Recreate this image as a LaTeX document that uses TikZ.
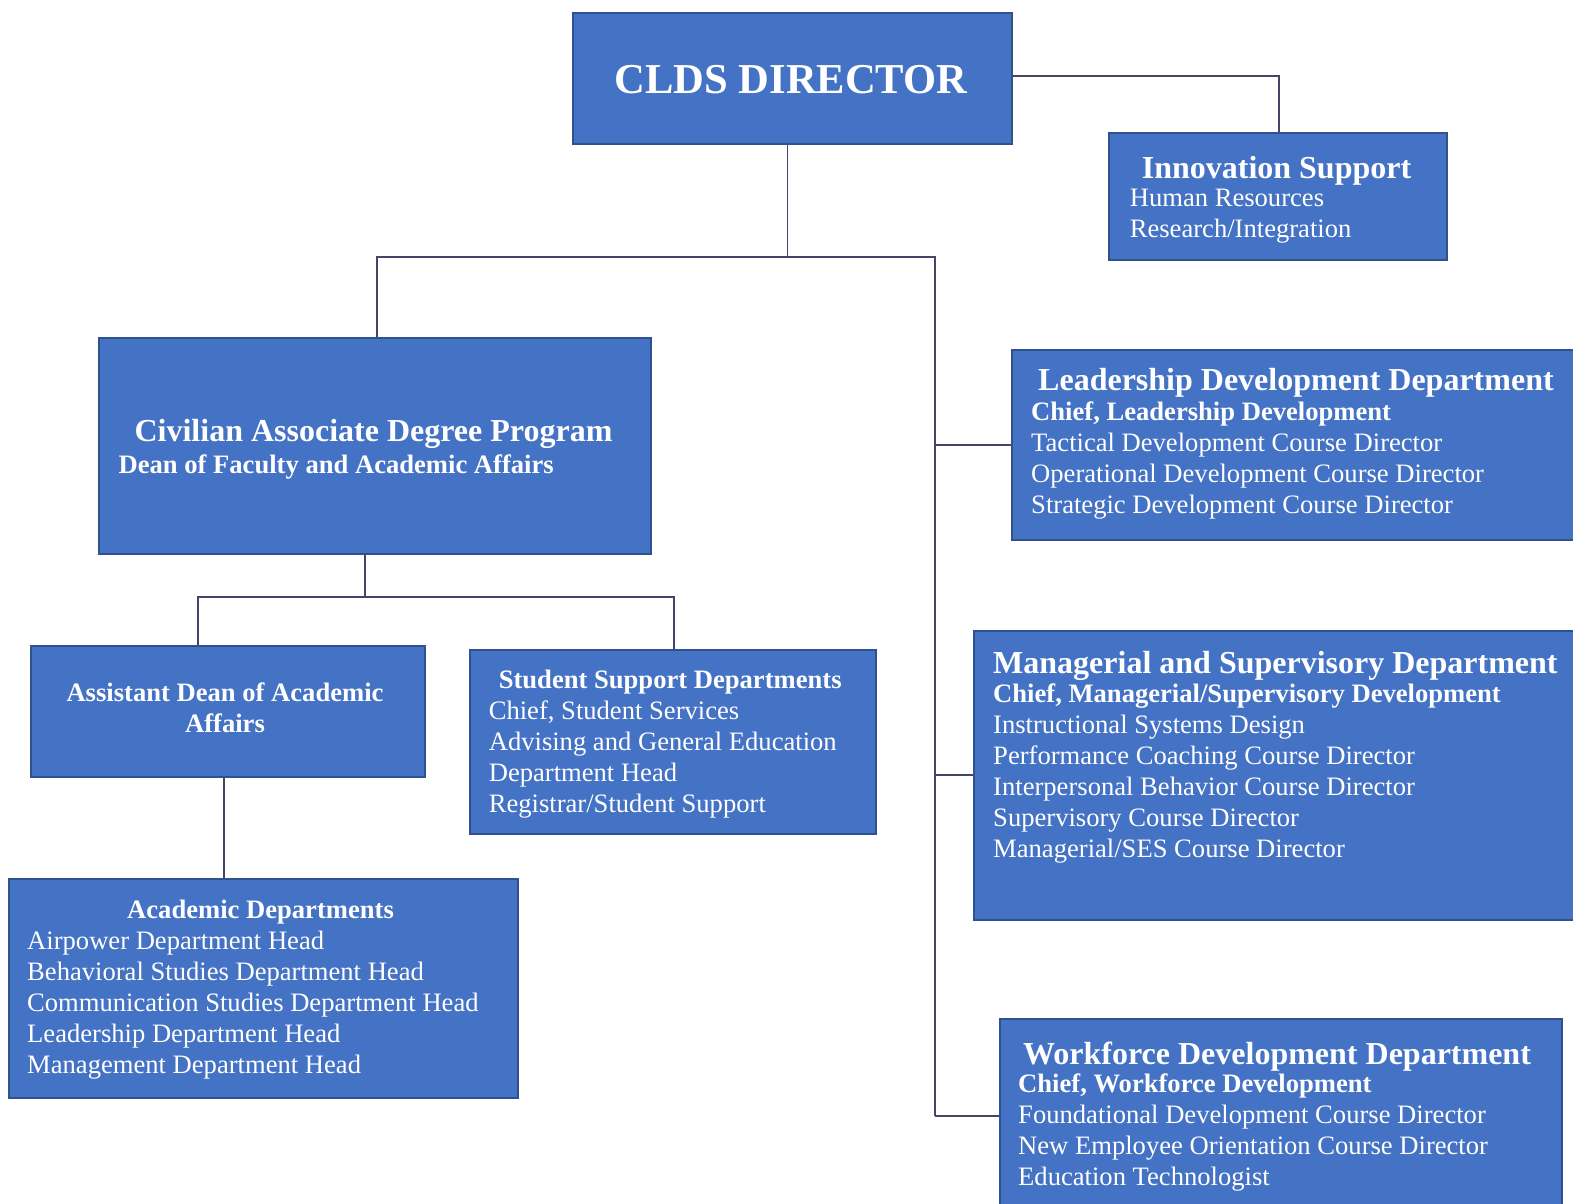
\documentclass[tikz,border=0pt]{standalone}
\usepackage{fontspec}
\setmainfont{Liberation Serif}
\definecolor{boxblue}{HTML}{4472C4}
\definecolor{boxedge}{HTML}{2F528F}
\definecolor{linec}{HTML}{45456A}
\begin{document}
\begin{tikzpicture}[x=1pt,y=-1pt,
  box/.style={draw=boxedge, line width=1.5pt, fill=boxblue, inner sep=0pt, anchor=north west},
  conn/.style={draw=linec, line width=1.8pt},
  ttl/.style={text=white, inner sep=0pt, anchor=base west, font=\fontsize{32}{36}\selectfont\bfseries},
  txt/.style={text=white, inner sep=0pt, anchor=base west, font=\fontsize{26.6}{31}\selectfont},
]
\useasboundingbox[fill=white] (0,0) rectangle (1573,1203);

% junction coordinates
\coordinate (j1) at (787.5,257);
\coordinate (jl) at (377,257);
\coordinate (jr) at (935,257);
\coordinate (jend) at (935,1116);
\coordinate (jt) at (1279,76);
\coordinate (k1) at (365,597);
\coordinate (kl) at (198,597);
\coordinate (kr) at (674,597);
\coordinate (m1) at (224,800);

% connectors (drawn first, under boxes)
\begin{scope}[on background layer/.try]
\end{scope}

% boxes
\node[box, minimum width=439pt, minimum height=131pt] (dir) at (572,12) {};
\node[box, minimum width=338pt, minimum height=127pt] (innov) at (1108,132) {};
\node[box, minimum width=552pt, minimum height=216pt] (civ) at (98,337) {};
\node[box, minimum width=570pt, minimum height=190pt] (lead) at (1011,349) {};
\node[box, minimum width=394pt, minimum height=131pt] (asst) at (30,645) {};
\node[box, minimum width=406pt, minimum height=184pt] (stud) at (469,649) {};
\node[box, minimum width=608pt, minimum height=289pt] (mgr) at (973,630) {};
\node[box, minimum width=509pt, minimum height=219pt] (acad) at (8,878) {};
\node[box, minimum width=562pt, minimum height=200pt] (work) at (999,1018) {};

% connectors
\draw[conn] (dir.south -| j1) -- (j1);
\draw[conn] (civ.north -| jl) -- (jl) -- (jr) -- (jend);
\draw[conn] (dir.east |- jt) -- (jt) -- (innov.north -| jt);
\draw[conn] (jr |- lead.west) -- (lead.west);
\draw[conn] (jr |- mgr.west) -- (mgr.west);
\draw[conn] (jend) -- (jend -| work.west);
\draw[conn] (civ.south -| k1) -- (k1);
\draw[conn] (asst.north -| kl) -- (kl) -- (kr) -- (stud.north -| kr);
\draw[conn] (asst.south -| m1) -- (acad.north -| m1);

% texts
\node[text=white, inner sep=0pt, anchor=base, font=\fontsize{42.6}{48}\selectfont\bfseries] (dirT) at (791,93) {CLDS DIRECTOR};

\node[ttl] (innovT) at (1141.6,178) {Innovation Support};
\node[txt] (innovB) at (1129.6,206) {\begin{tabular}[t]{@{}l@{}}Human Resources\\Research/Integration\end{tabular}};

\node[ttl] (civT) at (134.4,441) {Civilian Associate Degree Program};
\node[txt, font=\fontsize{26.6}{31}\selectfont\bfseries] (civB) at (118.4,473) {Dean of Faculty and Academic Affairs};

\node[ttl] (leadT) at (1038,390) {Leadership Development Department};
\node[txt] (leadB) at (1031,420) {\begin{tabular}[t]{@{}l@{}}\textbf{Chief, Leadership Development}\\Tactical Development Course Director\\Operational Development Course Director\\Strategic Development Course Director\end{tabular}};

\node[txt, anchor=base] (asstT) at (225,701) {\begin{tabular}[t]{@{}c@{}}\textbf{Assistant Dean of Academic}\\\textbf{Affairs}\end{tabular}};

\node[txt] (studB) at (488.6,688) {\begin{tabular}[t]{@{}l@{}}\hspace{10pt}\textbf{Student Support Departments}\\Chief, Student Services\\Advising and General Education\\Department Head\\Registrar/Student Support\end{tabular}};

\node[ttl] (mgrT) at (993,673) {Managerial and Supervisory Department};
\node[txt] (mgrB) at (993,702) {\begin{tabular}[t]{@{}l@{}}\textbf{Chief, Managerial/Supervisory Development}\\Instructional Systems Design\\Performance Coaching Course Director\\Interpersonal Behavior Course Director\\Supervisory Course Director\\Managerial/SES Course Director\end{tabular}};

\node[txt] (acadB) at (27,918) {\begin{tabular}[t]{@{}l@{}}\hspace{100pt}\textbf{Academic Departments}\\Airpower Department Head\\Behavioral Studies Department Head\\Communication Studies Department Head\\Leadership Department Head\\Management Department Head\end{tabular}};

\node[ttl] (workT) at (1023,1064) {Workforce Development Department};
\node[txt] (workB) at (1018,1092) {\begin{tabular}[t]{@{}l@{}}\textbf{Chief, Workforce Development}\\Foundational Development Course Director\\New Employee Orientation Course Director\\Education Technologist\end{tabular}};
\end{tikzpicture}
\end{document}
